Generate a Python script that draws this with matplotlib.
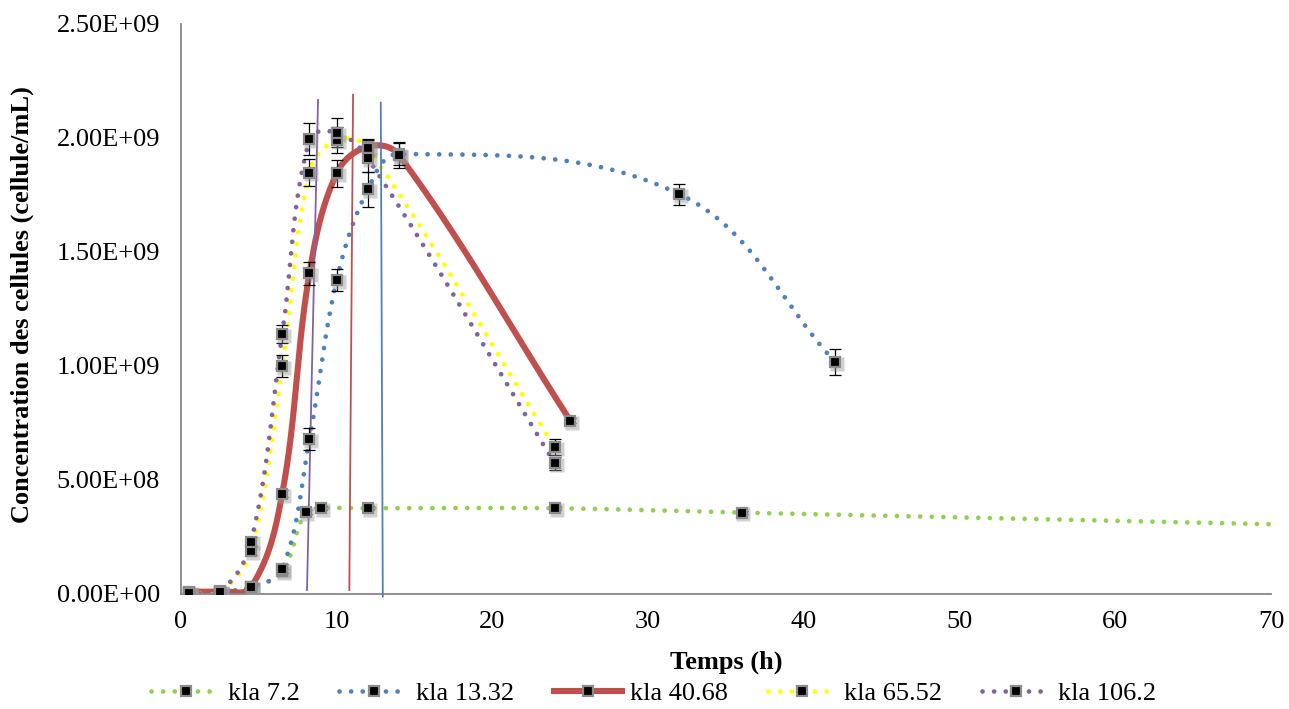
import numpy as np
import matplotlib
matplotlib.use("Agg")
import matplotlib.pyplot as plt
from matplotlib.lines import Line2D

plt.rcParams['font.family'] = ['Liberation Serif', 'DejaVu Serif']

# ---------------- data ----------------
labels = ["kla 7.2", "kla 13.32", "kla 40.68", "kla 65.52", "kla 106.2"]
colors = ["#92D050", "#4F81BD", "#C0504D", "#FFFF00", "#8064A2"]

t_green = [0.5, 2.5, 4.5, 6.5, 8.0, 9.0, 12.0, 24.0, 36.0, 72.0]
c_green = [0.005e9, 0.01e9, 0.03e9, 0.10e9, 0.36e9, 0.376e9, 0.376e9, 0.376e9, 0.357e9, 0.303e9]
e_green = [0.005e9, 0.005e9, 0.005e9, 0.01e9, 0.01e9, 0.008e9, 0.008e9, 0.008e9, 0.008e9, 0.008e9]

t_blue = [0.5, 2.5, 4.5, 6.5, 8.25, 10.0, 12.0, 14.0, 32.0, 42.0]
c_blue = [0.005e9, 0.01e9, 0.03e9, 0.11e9, 0.68e9, 1.377e9, 1.775e9, 1.93e9, 1.754e9, 1.018e9]
e_blue = [0.005e9, 0.005e9, 0.005e9, 0.02e9, 0.048e9, 0.049e9, 0.077e9, 0.05e9, 0.046e9, 0.057e9]

t_red = [0.5, 2.5, 4.5, 6.5, 8.25, 10.0, 12.0, 14.0, 25.0]
c_red = [0.01e9, 0.012e9, 0.03e9, 0.44e9, 1.407e9, 1.845e9, 1.962e9, 1.925e9, 0.76e9]
e_red = [0.005e9, 0.005e9, 0.005e9, 0.015e9, 0.05e9, 0.06e9, 0.035e9, 0.057e9, 0.01e9]

t_yellow = [0.5, 2.5, 4.5, 6.5, 8.25, 10.0, 12.0, 24.0]
c_yellow = [0.005e9, 0.01e9, 0.19e9, 1.0e9, 1.848e9, 1.991e9, 1.955e9, 0.643e9]
e_yellow = [0.005e9, 0.005e9, 0.02e9, 0.05e9, 0.06e9, 0.057e9, 0.035e9, 0.035e9]

t_purple = [0.5, 2.5, 4.5, 6.5, 8.25, 10.0, 12.0, 24.0]
c_purple = [0.005e9, 0.01e9, 0.23e9, 1.14e9, 1.994e9, 2.023e9, 1.911e9, 0.573e9]
e_purple = [0.005e9, 0.005e9, 0.02e9, 0.04e9, 0.07e9, 0.063e9, 0.06e9, 0.03e9]

# slanted vertical marker lines (x0, x1), (y0, y1)
vl_purple_t = [8.09, 8.80]
vl_purple_c = [0.0175e9, 2.167e9]
vl_red_t = [10.81, 11.05]
vl_red_c = [0.0175e9, 2.19e9]
vl_blue_t = [12.96, 12.83]
vl_blue_c = [-0.012e9, 2.155e9]

xticks = [0, 10, 20, 30, 40, 50, 60, 70]
yticks = [0, 0.5e9, 1.0e9, 1.5e9, 2.0e9, 2.5e9]
ytick_labels = ["0.00E+00", "5.00E+08", "1.00E+09", "1.50E+09", "2.00E+09", "2.50E+09"]

# ---------------- helpers ----------------
SX = 1090 / 70.0
SY = 570 / 2.5e9


def smooth(xs, ys, n=60, s=0.36):
    P = np.column_stack([np.asarray(xs, float) * SX, np.asarray(ys, float) * SY])
    m = len(P)
    T = []
    for i in range(m):
        a = P[max(i - 1, 0)]
        b = P[min(i + 1, m - 1)]
        d = b - a
        T.append(d / (np.hypot(*d) + 1e-12))
    out = []
    for i in range(m - 1):
        p1, p2 = P[i], P[i + 1]
        L = np.hypot(*(p2 - p1))
        b1 = p1 + T[i] * L * s
        b2 = p2 - T[i + 1] * L * s
        t = np.linspace(0, 1, n)[:, None]
        if i < m - 2:
            t = t[:-1]
        seg = (1 - t) ** 3 * p1 + 3 * (1 - t) ** 2 * t * b1 + 3 * (1 - t) * t ** 2 * b2 + t ** 3 * p2
        out.append(seg)
    out = np.vstack(out)
    return out[:, 0] / SX, out[:, 1] / SY


fig = plt.figure(figsize=(12.89, 7.09), dpi=100)
ax = fig.add_axes([181 / 1289, 1 - 594 / 709, (1271 - 181) / 1289, (594 - 24) / 709])

series = [
    (t_green, c_green, e_green),
    (t_blue, c_blue, e_blue),
    (t_red, c_red, e_red),
    (t_yellow, c_yellow, e_yellow),
    (t_purple, c_purple, e_purple),
]

DOT = (0, (0.01, 2.45))
dot_lw = 3.4

for i, (t, c, e) in enumerate(series):
    sx, sy = smooth(t, c)
    if i == 2:
        ax.plot(sx, sy, color=colors[i], lw=4.4, solid_capstyle='round', zorder=2 + i * 0.1)
    else:
        ax.plot(sx, sy, color=colors[i], lw=dot_lw, linestyle=DOT,
                dash_capstyle='round', zorder=2 + i * 0.1)

# vertical lines
ax.plot(vl_purple_t, vl_purple_c, color="#8064A2", lw=1.3, zorder=3, clip_on=False)
ax.plot(vl_red_t, vl_red_c, color="#C0504D", lw=1.3, zorder=3, clip_on=False)
ax.plot(vl_blue_t, vl_blue_c, color="#4F81BD", lw=1.3, zorder=3, clip_on=False)

# markers + error bars
for i, (t, c, e) in enumerate(series):
    ax.errorbar(t, c, yerr=e, fmt='none', ecolor='black', elinewidth=0.9,
                capsize=4.5, capthick=0.9, zorder=4)
    ax.plot(np.asarray(t) + 0.12, np.asarray(c) - 0.008e9, linestyle='none', marker='s',
            markersize=9.5, markerfacecolor='#9a9a9a', markeredgecolor='none',
            alpha=0.45, zorder=4.5)
    ax.plot(t, c, linestyle='none', marker='s', markersize=7.2,
            markerfacecolor='black', markeredgecolor='#8c8c8c', markeredgewidth=1.6,
            zorder=5)

ax.set_xlim(0, 70)
ax.set_ylim(0, 2.5e9)
ax.set_xticks(xticks)
ax.set_xticklabels([str(v) for v in xticks], fontsize=19)
ax.set_yticks(yticks)
ax.set_yticklabels(ytick_labels, fontsize=19)
ax.tick_params(axis='both', length=0)
ax.tick_params(axis='y', pad=15)
ax.tick_params(axis='x', pad=12)

for s in ['top', 'right']:
    ax.spines[s].set_visible(False)
for s in ['left', 'bottom']:
    ax.spines[s].set_color('#868686')
    ax.spines[s].set_linewidth(1.3)

fig.text(22 / 1289, 1 - 305 / 709, "Concentration des cellules (cellule/mL)", rotation=90,
         fontsize=19, fontweight='bold', ha='center', va='center')
fig.text(726 / 1289, 1 - 662 / 709, "Temps (h)", fontsize=19, fontweight='bold',
         ha='center', va='center')

handles = []
for i, lab in enumerate(labels):
    if i == 2:
        h = Line2D([], [], color=colors[i], lw=4.4, marker='s', markersize=7.2,
                   markerfacecolor='black', markeredgecolor='#8c8c8c', markeredgewidth=1.6)
    else:
        h = Line2D([], [], color=colors[i], lw=dot_lw, linestyle=DOT, dash_capstyle='round',
                   marker='s', markersize=7.2, markerfacecolor='black',
                   markeredgecolor='#8c8c8c', markeredgewidth=1.6)
    handles.append(h)

fig.legend(handles, labels, loc='center', bbox_to_anchor=(654 / 1289, 1 - 693 / 709),
           ncol=5, frameon=False, fontsize=19, handlelength=2.6, handletextpad=0.3,
           columnspacing=1.5, numpoints=1, borderpad=0, borderaxespad=0)

fig.savefig("out.png", dpi=100)
